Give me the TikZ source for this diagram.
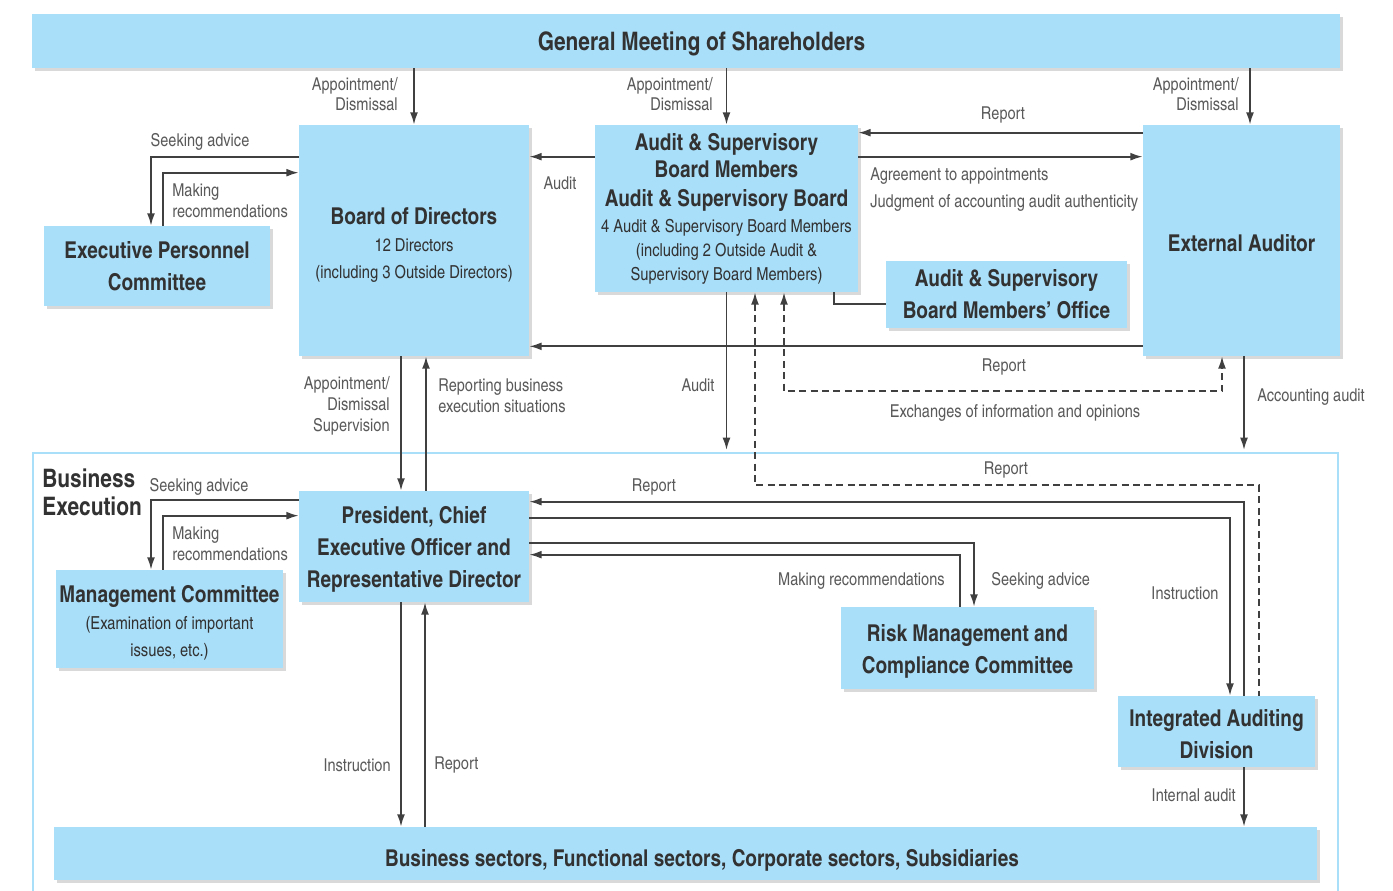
\documentclass[tikz,border=0pt]{standalone}
\usepackage{fontspec}
\setmainfont{texgyreheroscn}[Extension=.otf, UprightFont=*-regular, BoldFont=*-bold, ItalicFont=*-italic, BoldItalicFont=*-bolditalic]
\usetikzlibrary{arrows.meta,calc,shadows}
\definecolor{boxblue}{RGB}{170,223,249}
\definecolor{linegray}{RGB}{64,64,64}
\definecolor{titlegray}{RGB}{50,50,50}
\definecolor{labelgray}{RGB}{90,90,90}
\newcommand\ttlfont{\bfseries\fontsize{13.2}{18.2}\selectfont}
\newcommand\bigfont{\bfseries\fontsize{14.5}{16}\selectfont}
\newcommand\subfont{\fontsize{10.2}{15.4}\selectfont}
\newcommand\lblfont{\fontsize{10.1}{11.8}\selectfont}
\newcommand\lift[1][13pt]{\rule{0pt}{#1}}

\begin{document}
\begin{tikzpicture}[x=0.02cm, y=-0.02cm, >={Latex[length=7pt,width=4.5pt]},
    box/.style={fill=boxblue, inner sep=0pt, align=center, text=titlegray,
      execute at begin node={\lift[12.5pt]},
      drop shadow={shadow xshift=1.5pt, shadow yshift=-1.5pt, opacity=.25, fill=black!60}},
    ttl/.style={box, font=\ttlfont},
    lbl/.style={inner sep=0pt, text=labelgray, font=\lblfont},
    lin/.style={draw=linegray, line width=1pt},
    arr/.style={lin, ->},
    dsh/.style={lin, dash pattern=on 4pt off 2.5pt}]
  \useasboundingbox (0,0) rectangle (1393,890);
  \node[draw=boxblue, line width=1.2pt, minimum width=26.1cm, minimum height=8.84cm] (exe) at (685.5,674) {};

  % boxes
  \node[box, font=\bigfont, minimum width=26.16cm, minimum height=1.08cm,
    execute at begin node={\lift[14pt]\hspace*{0.62cm}}] (gms) at (686,41) {General Meeting of Shareholders};
  \node[box, font=\subfont, minimum width=4.6cm, minimum height=4.62cm] (bod) at (414,240.5) {{\ttlfont\lift[14.5pt]Board of Directors}\\12 Directors\\(including 3 Outside Directors)};
  \node[box, font=\fontsize{10.2}{13.7}\selectfont, minimum width=5.26cm, minimum height=3.34cm] (asb) at (726.5,208.5) {{\ttlfont Audit \& Supervisory}\\[1.7pt]{\ttlfont Board Members}\\[2.8pt]{\ttlfont Audit \& Supervisory Board}\\[1.1pt]4 Audit \& Supervisory Board Members\\(including 2 Outside Audit \&\\Supervisory Board Members)};
  \node[ttl, minimum width=3.94cm, minimum height=4.62cm] (ext) at (1241.5,240.5) {External Auditor};
  \node[ttl, minimum width=4.52cm, minimum height=1.6cm] (epc) at (157,266) {Executive Personnel\\Committee};
  \node[ttl, minimum width=4.82cm, minimum height=1.34cm] (off) at (1006.5,294.5) {Audit \& Supervisory\\Board Members' Office};
  \node[ttl, minimum width=4.6cm, minimum height=2.22cm] (pres) at (414,546.5) {\lift President, Chief\\Executive Officer and\\Representative Director};
  \node[box, font=\subfont, minimum width=4.54cm, minimum height=1.96cm] (mgc) at (169.5,619) {{\ttlfont\lift[14pt]Management Committee}\\(Examination of important\\issues, etc.)};
  \node[ttl, minimum width=5.06cm, minimum height=1.64cm] (rmc) at (967.5,648) {\lift Risk Management and\\Compliance Committee};
  \node[ttl, minimum width=3.94cm, minimum height=1.42cm] (iad) at (1216.5,731.5) {\lift Integrated Auditing\\Division};
  \node[ttl, minimum width=25.26cm, minimum height=1.06cm,
    execute at begin node={\lift[17pt]\hspace*{0.66cm}}] (bus) at (685.5,853.5) {Business sectors, Functional sectors, Corporate sectors, Subsidiaries};
  \node[anchor=west, align=left, inner sep=0pt, text=titlegray, font=\bigfont] (bex) at (42,492) {Business\\Execution};

  % general meeting
  \draw[arr] (gms.south -| bod.north) -- (bod.north);
  \draw[arr] (gms.south -| asb.north) -- (asb.north);
  \coordinate (extin) at ($(ext.north)+(8.5,0)$);
  \draw[arr] (gms.south -| extin) -- (extin);

  % audit & supervisory board, external auditor
  \coordinate (rep1) at ($(ext.north west)+(0,8)$);
  \draw[arr] (rep1) -- (rep1 -| asb.east);
  \coordinate (agr) at ($(asb.north east)+(0,32)$);
  \draw[arr] (agr) -- (agr -| ext.west);
  \draw[arr] (agr -| asb.west) -- (agr -| bod.east);
  \coordinate (rep2) at ($(ext.south west)+(0,-10)$);
  \draw[arr] (rep2) -- (rep2 -| bod.east);
  \draw[lin] ($(asb.south east)+(-24,0)$) |- ($(off.west)+(0,9.5)$);
  \draw[arr] (agr -| bod.west) -| ($(epc.north)+(-6,0)$);
  \draw[arr] ($(epc.north)+(6,0)$) |- ($(bod.north west)+(0,48)$);
  \coordinate (ftop) at (0,450);
  \draw[arr] (asb.south) -- (asb.south |- ftop);
  \coordinate (accin) at ($(ext.south)+(2.5,0)$);
  \draw[arr] (accin) -- (accin |- ftop);
  \draw[dsh, <->] ($(asb.south)+(57.5,0)$) -- ++(0,99) -| ($(ext.south)+(-19.5,0)$);
  \draw[dsh, <-] ($(asb.south)+(28.5,0)$) -- ++(0,193) -| ($(iad.north)+(42.5,0)$);

  % board and president
  \coordinate (sup) at ($(bod.south)+(-13,0)$);
  \draw[arr] (sup) -- (sup |- pres.north);
  \coordinate (rbe) at ($(pres.north)+(12,0)$);
  \draw[arr] (rbe) -- (rbe |- bod.south);

  % business execution
  \draw[arr] ($(pres.north west)+(0,9)$) -| ($(mgc.north)+(-18.5,0)$);
  \draw[arr] ($(mgc.north)+(-6.5,0)$) |- ($(pres.north west)+(0,25)$);
  \draw[arr] ($(iad.north)+(27.5,0)$) |- ($(pres.north east)+(0,11)$);
  \draw[arr] ($(pres.north east)+(0,27)$) -| ($(iad.north)+(13.5,0)$);
  \draw[arr] ($(pres.north east)+(0,52)$) -| ($(rmc.north)+(6.5,0)$);
  \draw[arr] ($(rmc.north)+(-7.5,0)$) |- ($(pres.north east)+(0,64)$);
  \coordinate (ins) at ($(pres.south)+(-13,0)$);
  \draw[arr] (ins) -- (ins |- bus.north);
  \coordinate (rpt) at ($(pres.south)+(11,0)$);
  \draw[arr] (rpt |- bus.north) -- (rpt);
  \coordinate (ina) at ($(iad.south)+(27.5,0)$);
  \draw[arr] (ina) -- (ina |- bus.north);

  % labels
  \node[lbl, anchor=east, align=right] (ad1) at (398,94) {Appointment/\\Dismissal};
  \node[lbl, anchor=east, align=right] (ad2) at (713,94) {Appointment/\\Dismissal};
  \node[lbl, anchor=east, align=right] (ad3) at (1239,94) {Appointment/\\Dismissal};
  \node[lbl] (lrep1) at (1003,115) {Report};
  \node[lbl, anchor=west] (lagr) at (870,176) {Agreement to appointments};
  \node[lbl, anchor=west] (ljud) at (870,203) {Judgment of accounting audit authenticity};
  \node[lbl] (laud1) at (560,183) {Audit};
  \node[lbl] (lsee1) at (200,142) {Seeking advice};
  \node[lbl, anchor=west, align=left] (lmak1) at (172,201) {Making\\recommendations};
  \node[lbl] (lrep2) at (1004,367) {Report};
  \node[lbl] (lexc) at (1015,413) {Exchanges of information and opinions};
  \node[lbl] (laud2) at (698,385) {Audit};
  \node[lbl] (lacc) at (1311,397) {Accounting audit};
  \node[lbl, anchor=east, align=right] (lsup) at (390,406) {Appointment/\\Dismissal\\Supervision};
  \node[lbl, anchor=west, align=left] (lrbe) at (438,395.5) {Reporting business\\execution situations};
  \node[lbl] (lrep3) at (1006,470) {Report};
  \node[lbl] (lsee2) at (199,487) {Seeking advice};
  \node[lbl, anchor=west, align=left] (lmak2) at (172,544) {Making\\recommendations};
  \node[lbl] (lrep4) at (654,487) {Report};
  \node[lbl, anchor=east] (lmak3) at (945,581) {Making recommendations};
  \node[lbl, anchor=west] (lsee3) at (991,581) {Seeking advice};
  \node[lbl] (lins1) at (1185,593) {Instruction};
  \node[lbl, anchor=east] (lins2) at (391,765) {Instruction};
  \node[lbl, anchor=west] (lrep5) at (434,765) {Report};
  \node[lbl, anchor=east] (lint) at (1236,795) {Internal audit};
\end{tikzpicture}
\end{document}
